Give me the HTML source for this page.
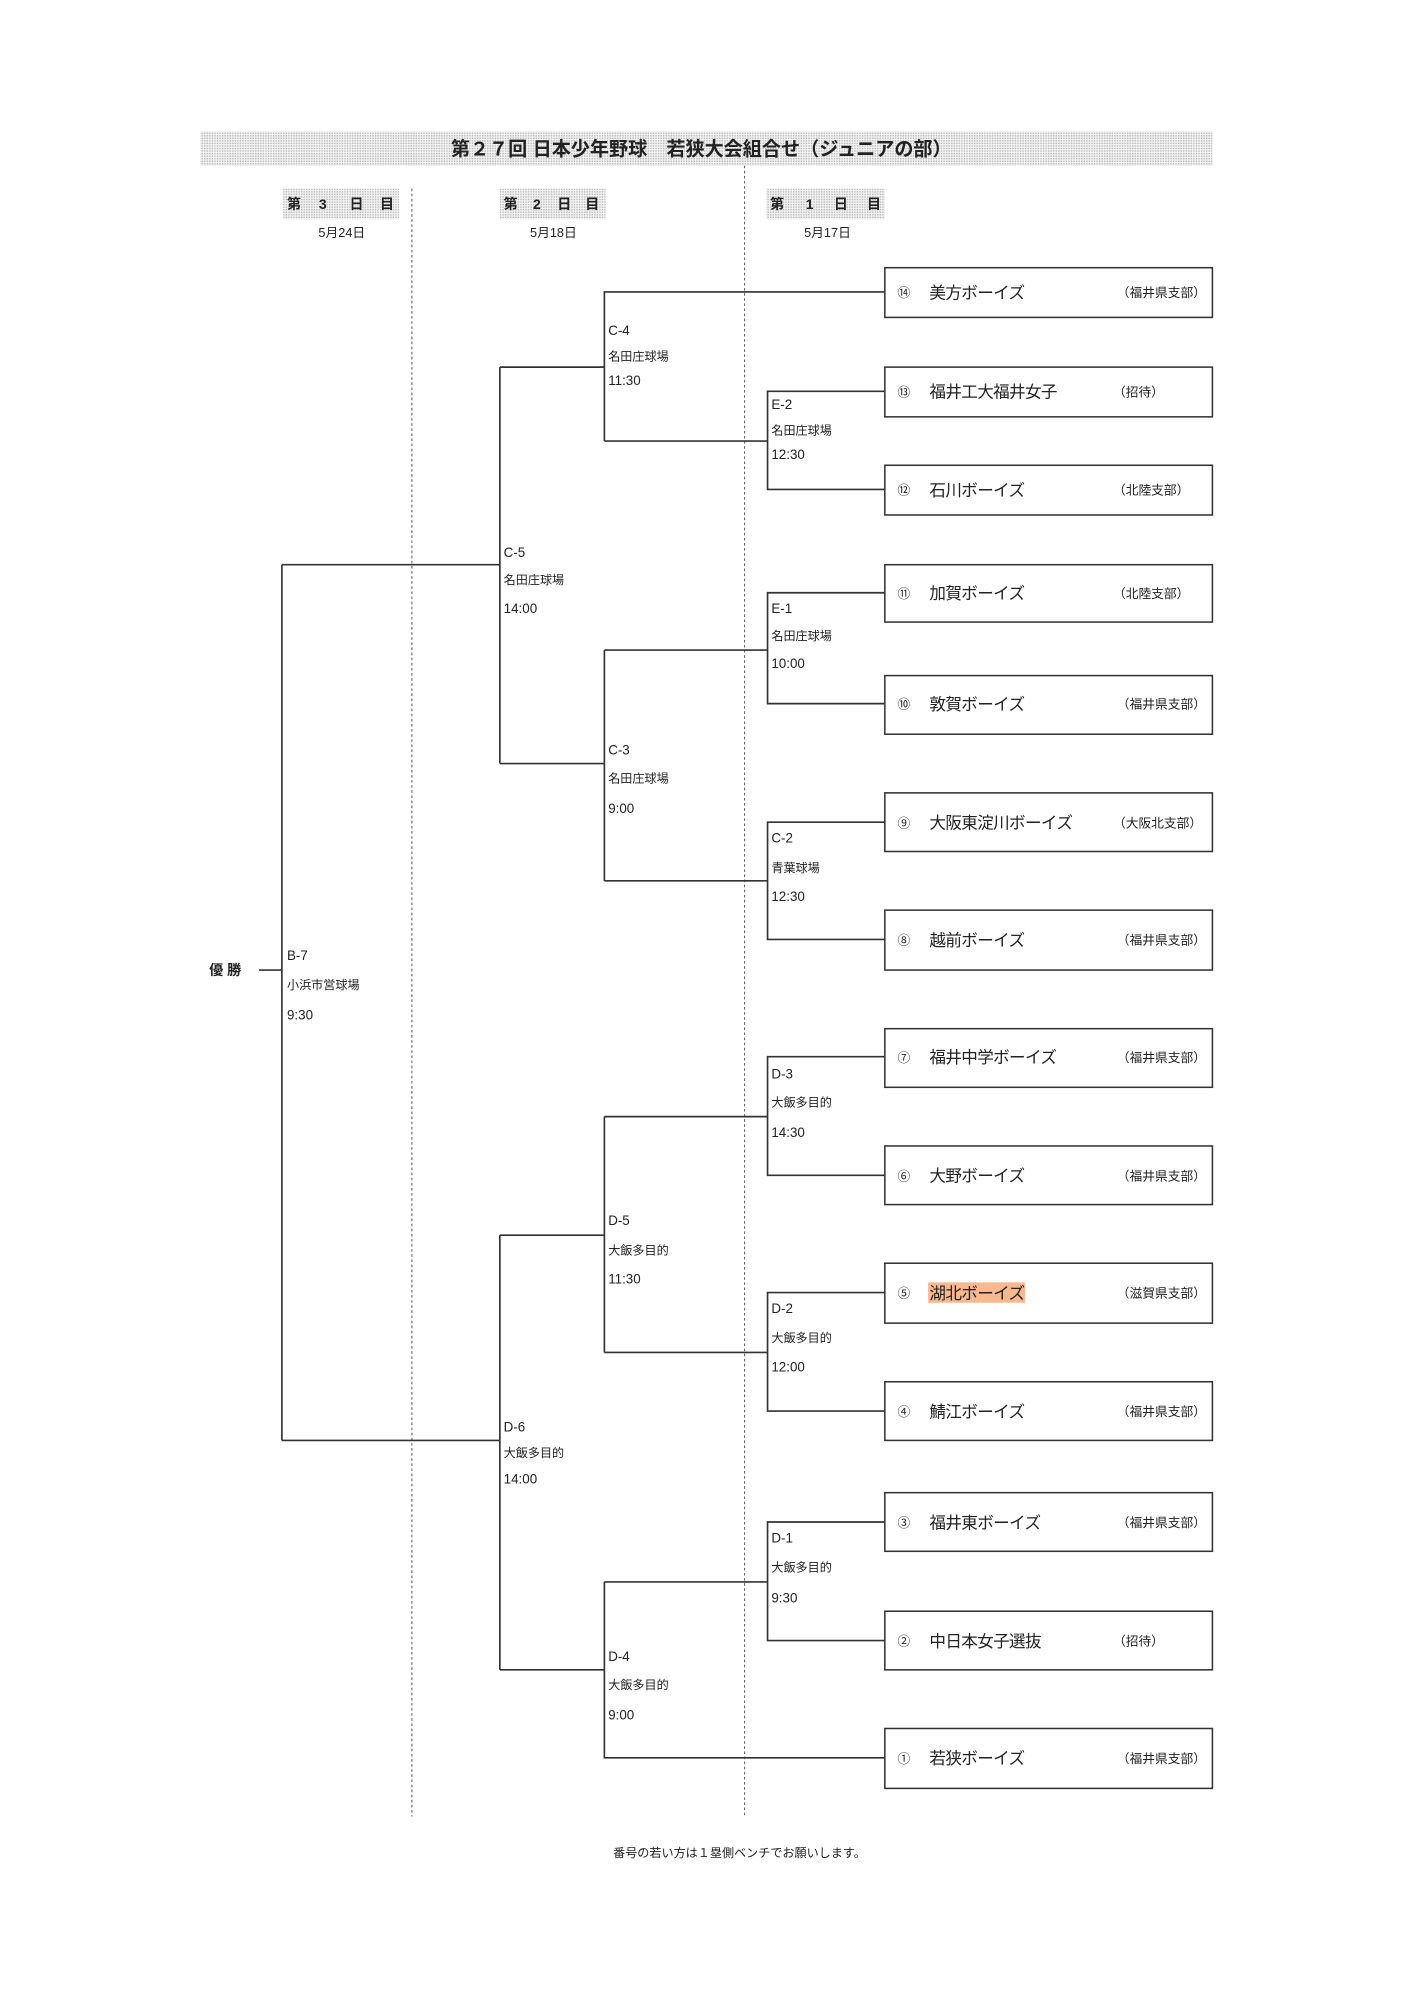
<!DOCTYPE html>
<html><head><meta charset="utf-8"><style>
html,body{margin:0;padding:0;background:#fff}
svg{display:block}
text{font-family:"Liberation Sans","Noto Sans CJK JP",sans-serif;fill:#222}
</style></head><body>
<svg width="1414" height="2000" viewBox="0 0 1109 1569" xmlns="http://www.w3.org/2000/svg">
<defs>
<pattern id="dots" width="2" height="2" patternUnits="userSpaceOnUse">
<rect width="2" height="2" fill="#f0f0f0"/><rect width="1" height="1" fill="#b8b8b8"/>
</pattern>
</defs>
<rect x="157" y="103" width="794" height="27" fill="url(#dots)"/>
<text x="550" y="122" font-size="15" font-weight="bold" text-anchor="middle">第２７回 日本少年野球　若狭大会組合せ（ジュニアの部）</text>

<rect x="222" y="148" width="91" height="24" fill="url(#dots)"/>
<rect x="392" y="148" width="83" height="24" fill="url(#dots)"/>
<rect x="601" y="148" width="93" height="24" fill="url(#dots)"/>
<g font-size="11" font-weight="bold">
<text x="225" y="164">第</text><text x="250" y="164">3</text><text x="274" y="164">日</text><text x="298" y="164">目</text>
<text x="395" y="164">第</text><text x="418" y="164">2</text><text x="437" y="164">日</text><text x="459" y="164">目</text>
<text x="604" y="164">第</text><text x="632" y="164">1</text><text x="654" y="164">日</text><text x="680" y="164">目</text>
</g>
<g font-size="10" text-anchor="middle">
<text x="268" y="186">5月24日</text><text x="434" y="186">5月18日</text><text x="649" y="186">5月17日</text>
</g>

<g stroke="#555" stroke-width="0.8" stroke-dasharray="2,2">
<line x1="323" y1="148" x2="323" y2="1425"/>
<line x1="584" y1="130" x2="584" y2="1425"/>
</g>

<g fill="#fff" stroke="#333" stroke-width="1.2">
<rect x="694" y="210" width="257" height="39"/>
<rect x="694" y="288" width="257" height="39"/>
<rect x="694" y="365" width="257" height="39"/>
<rect x="694" y="443" width="257" height="45"/>
<rect x="694" y="530" width="257" height="46"/>
<rect x="694" y="622" width="257" height="46"/>
<rect x="694" y="714" width="257" height="47"/>
<rect x="694" y="807" width="257" height="46"/>
<rect x="694" y="899" width="257" height="46"/>
<rect x="694" y="991" width="257" height="47"/>
<rect x="694" y="1084" width="257" height="46"/>
<rect x="694" y="1171" width="257" height="46"/>
<rect x="694" y="1264" width="257" height="46"/>
<rect x="694" y="1356" width="257" height="47"/>
</g>
<rect x="728" y="1006" width="76" height="16" fill="#f8b890"/>

<g font-size="10">
<text x="704" y="233">⑭</text><text x="704" y="311">⑬</text><text x="704" y="388">⑫</text><text x="704" y="469">⑪</text><text x="704" y="556">⑩</text><text x="704" y="649">⑨</text><text x="704" y="741">⑧</text><text x="704" y="833">⑦</text><text x="704" y="926">⑥</text><text x="704" y="1018">⑤</text><text x="704" y="1111">④</text><text x="704" y="1198">③</text><text x="704" y="1291">②</text><text x="704" y="1383">①</text>
</g>
<g font-size="13" letter-spacing="-0.5">
<text x="729" y="234">美方ボーイズ</text>
<text x="729" y="312">福井工大福井女子</text>
<text x="729" y="389">石川ボーイズ</text>
<text x="729" y="470">加賀ボーイズ</text>
<text x="729" y="557">敦賀ボーイズ</text>
<text x="729" y="650">大阪東淀川ボーイズ</text>
<text x="729" y="742">越前ボーイズ</text>
<text x="729" y="834">福井中学ボーイズ</text>
<text x="729" y="927">大野ボーイズ</text>
<text x="729" y="1019">湖北ボーイズ</text>
<text x="729" y="1112">鯖江ボーイズ</text>
<text x="729" y="1199">福井東ボーイズ</text>
<text x="729" y="1292">中日本女子選抜</text>
<text x="729" y="1384">若狭ボーイズ</text>
</g>
<g font-size="10">
<text x="876" y="233">（福井県支部）</text>
<text x="873" y="311">（招待）</text>
<text x="873" y="388">（北陸支部）</text>
<text x="873" y="469">（北陸支部）</text>
<text x="876" y="556">（福井県支部）</text>
<text x="873" y="649">（大阪北支部）</text>
<text x="876" y="741">（福井県支部）</text>
<text x="876" y="833">（福井県支部）</text>
<text x="876" y="926">（福井県支部）</text>
<text x="876" y="1018">（滋賀県支部）</text>
<text x="876" y="1111">（福井県支部）</text>
<text x="876" y="1198">（福井県支部）</text>
<text x="873" y="1291">（招待）</text>
<text x="876" y="1383">（福井県支部）</text>
</g>

<g stroke="#333" stroke-width="1.3" fill="none">
<polyline points="694,307 602,307 602,384 694,384"/>
<polyline points="694,465 602,465 602,552 694,552"/>
<polyline points="694,645 602,645 602,737 694,737"/>
<polyline points="694,829 602,829 602,922 694,922"/>
<polyline points="694,1014 602,1014 602,1107 694,1107"/>
<polyline points="694,1194 602,1194 602,1287 694,1287"/>
<line x1="474" y1="346" x2="602" y2="346"/>
<line x1="474" y1="510" x2="602" y2="510"/>
<line x1="474" y1="691" x2="602" y2="691"/>
<line x1="474" y1="876" x2="602" y2="876"/>
<line x1="474" y1="1061" x2="602" y2="1061"/>
<line x1="474" y1="1241" x2="602" y2="1241"/>
<polyline points="694,229 474,229 474,346"/>
<line x1="474" y1="510" x2="474" y2="691"/>
<line x1="474" y1="876" x2="474" y2="1061"/>
<polyline points="474,1241 474,1379 694,1379"/>
<line x1="392" y1="288" x2="474" y2="288"/>
<line x1="392" y1="599" x2="474" y2="599"/>
<line x1="392" y1="969" x2="474" y2="969"/>
<line x1="392" y1="1310" x2="474" y2="1310"/>
<line x1="392" y1="288" x2="392" y2="599"/>
<line x1="392" y1="969" x2="392" y2="1310"/>
<line x1="221" y1="443" x2="392" y2="443"/>
<line x1="221" y1="1130" x2="392" y2="1130"/>
<line x1="221" y1="443" x2="221" y2="1130"/>
<line x1="203" y1="761" x2="221" y2="761"/>
</g>
<text x="164" y="765" font-size="11" font-weight="bold">優 勝</text>

<g font-size="10.5">
<text x="477" y="263">C-4</text><text x="477" y="283" font-size="9.5">名田庄球場</text><text x="477" y="302">11:30</text>
<text x="605" y="321">E-2</text><text x="605" y="341" font-size="9.5">名田庄球場</text><text x="605" y="360">12:30</text>
<text x="395" y="437">C-5</text><text x="395" y="458" font-size="9.5">名田庄球場</text><text x="395" y="481">14:00</text>
<text x="605" y="481">E-1</text><text x="605" y="502" font-size="9.5">名田庄球場</text><text x="605" y="524">10:00</text>
<text x="477" y="592">C-3</text><text x="477" y="614" font-size="9.5">名田庄球場</text><text x="477" y="638">9:00</text>
<text x="605" y="661">C-2</text><text x="605" y="684" font-size="9.5">青葉球場</text><text x="605" y="707">12:30</text>
<text x="225" y="753">B-7</text><text x="225" y="776" font-size="9.5">小浜市営球場</text><text x="225" y="800">9:30</text>
<text x="605" y="846">D-3</text><text x="605" y="868" font-size="9.5">大飯多目的</text><text x="605" y="892">14:30</text>
<text x="477" y="961">D-5</text><text x="477" y="984" font-size="9.5">大飯多目的</text><text x="477" y="1007">11:30</text>
<text x="605" y="1030">D-2</text><text x="605" y="1053" font-size="9.5">大飯多目的</text><text x="605" y="1076">12:00</text>
<text x="395" y="1123">D-6</text><text x="395" y="1143" font-size="9.5">大飯多目的</text><text x="395" y="1164">14:00</text>
<text x="605" y="1210">D-1</text><text x="605" y="1233" font-size="9.5">大飯多目的</text><text x="605" y="1257">9:30</text>
<text x="477" y="1303">D-4</text><text x="477" y="1325" font-size="9.5">大飯多目的</text><text x="477" y="1349">9:00</text>
</g>

<text x="580" y="1457" font-size="9.5" text-anchor="middle">番号の若い方は１塁側ベンチでお願いします。</text>
</svg>
</body></html>
